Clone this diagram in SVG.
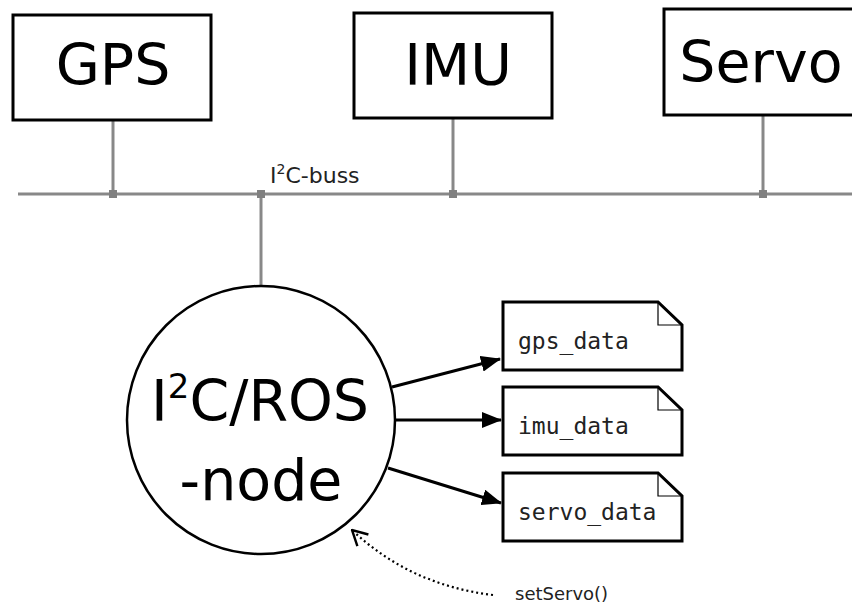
<svg xmlns="http://www.w3.org/2000/svg" width="852" height="610" viewBox="0 0 852 610">
  <defs>
    <style>
      .dev { fill: #ffffff; stroke: #000000; stroke-width: 3; }
      .big { font-family: "DejaVu Sans", "Liberation Sans", sans-serif; font-size: 57px; fill: #000000; }
      .bus { stroke: #888888; stroke-width: 3; fill: none; }
      .junc { fill: #808080; }
      .doc { fill: #ffffff; stroke: #000000; stroke-width: 3; stroke-linejoin: miter; }
      .fold { fill: none; stroke: #000000; stroke-width: 1.2; }
      .mono { font-family: "DejaVu Sans Mono", "Liberation Mono", monospace; font-size: 23px; fill: #222222; }
      .lbl { font-family: "DejaVu Sans", "Liberation Sans", sans-serif; fill: #222222; }
      .flow { stroke: #000000; stroke-width: 3; fill: none; }
      .call { stroke: #000000; stroke-width: 2.2; fill: none; stroke-dasharray: 2 3; }
    </style>
    <marker id="head" viewBox="0 0 20 16" refX="19" refY="8" markerWidth="20" markerHeight="16" markerUnits="userSpaceOnUse" orient="auto">
      <path d="M0,0 L20,8 L0,16 Z" fill="#000000"/>
    </marker>
    <marker id="open" viewBox="0 0 18 18" refX="17" refY="9" markerWidth="18" markerHeight="18" markerUnits="userSpaceOnUse" orient="auto">
      <path d="M2,1 L17,9 L2,17" fill="none" stroke="#000000" stroke-width="2.4"/>
    </marker>
  </defs>
  <rect width="852" height="610" fill="#ffffff"/>

  <!-- bus and drops -->
  <g id="connectors">
    <line class="bus" x1="18" y1="194" x2="852" y2="194"/>
    <line class="bus" x1="113" y1="120" x2="113" y2="194"/>
    <line class="bus" x1="453" y1="118" x2="453" y2="194"/>
    <line class="bus" x1="763" y1="115" x2="763" y2="194"/>
    <line class="bus" x1="261" y1="194" x2="261" y2="285"/>
    <rect class="junc" x="109" y="190" width="8" height="8"/>
    <rect class="junc" x="449" y="190" width="8" height="8"/>
    <rect class="junc" x="759" y="190" width="8" height="8"/>
    <rect class="junc" x="257" y="190" width="8" height="8"/>
    <line class="flow" x1="392" y1="387" x2="500" y2="359" marker-end="url(#head)"/>
    <line class="flow" x1="395" y1="420" x2="501" y2="420" marker-end="url(#head)"/>
    <line class="flow" x1="388" y1="468" x2="501" y2="503" marker-end="url(#head)"/>
    <path class="call" d="M493,595 Q410,585 352,530" marker-end="url(#open)"/>
  </g>

  <text class="lbl" x="270" y="183" font-size="22">I<tspan font-size="14" dy="-9">2</tspan><tspan dy="9">C-buss</tspan></text>

  <g id="gps">
    <rect class="dev" x="13" y="15" width="198" height="105"/>
    <text class="big" x="113" y="85" text-anchor="middle">GPS</text>
  </g>
  <g id="imu">
    <rect class="dev" x="354" y="13" width="198" height="105"/>
    <text class="big" x="458" y="85" text-anchor="middle">IMU</text>
  </g>
  <g id="servo">
    <rect class="dev" x="664" y="9" width="200" height="106"/>
    <text class="big" x="761" y="82" text-anchor="middle">Servo</text>
  </g>

  <g id="node">
    <circle cx="261" cy="420" r="134" fill="#ffffff" stroke="#000000" stroke-width="2.5"/>
    <text class="big" x="260" y="421" text-anchor="middle">I<tspan font-size="34" dy="-23">2</tspan><tspan dy="23">C/ROS</tspan></text>
    <text class="big" x="261" y="500" text-anchor="middle">-node</text>
  </g>

  <g id="gps_data">
    <path class="doc" d="M503,302 H658 L682,325 V370 H503 Z"/>
    <path class="fold" d="M658,302 V325 H682"/>
    <text class="mono" x="518" y="349">gps_data</text>
  </g>
  <g id="imu_data">
    <path class="doc" d="M503,387 H658 L682,410 V455 H503 Z"/>
    <path class="fold" d="M658,387 V410 H682"/>
    <text class="mono" x="518" y="434">imu_data</text>
  </g>
  <g id="servo_data">
    <path class="doc" d="M503,473 H658 L682,496 V541 H503 Z"/>
    <path class="fold" d="M658,473 V496 H682"/>
    <text class="mono" x="518" y="520">servo_data</text>
  </g>

  <text class="lbl" x="515" y="600" font-size="18">setServo()</text>
</svg>
